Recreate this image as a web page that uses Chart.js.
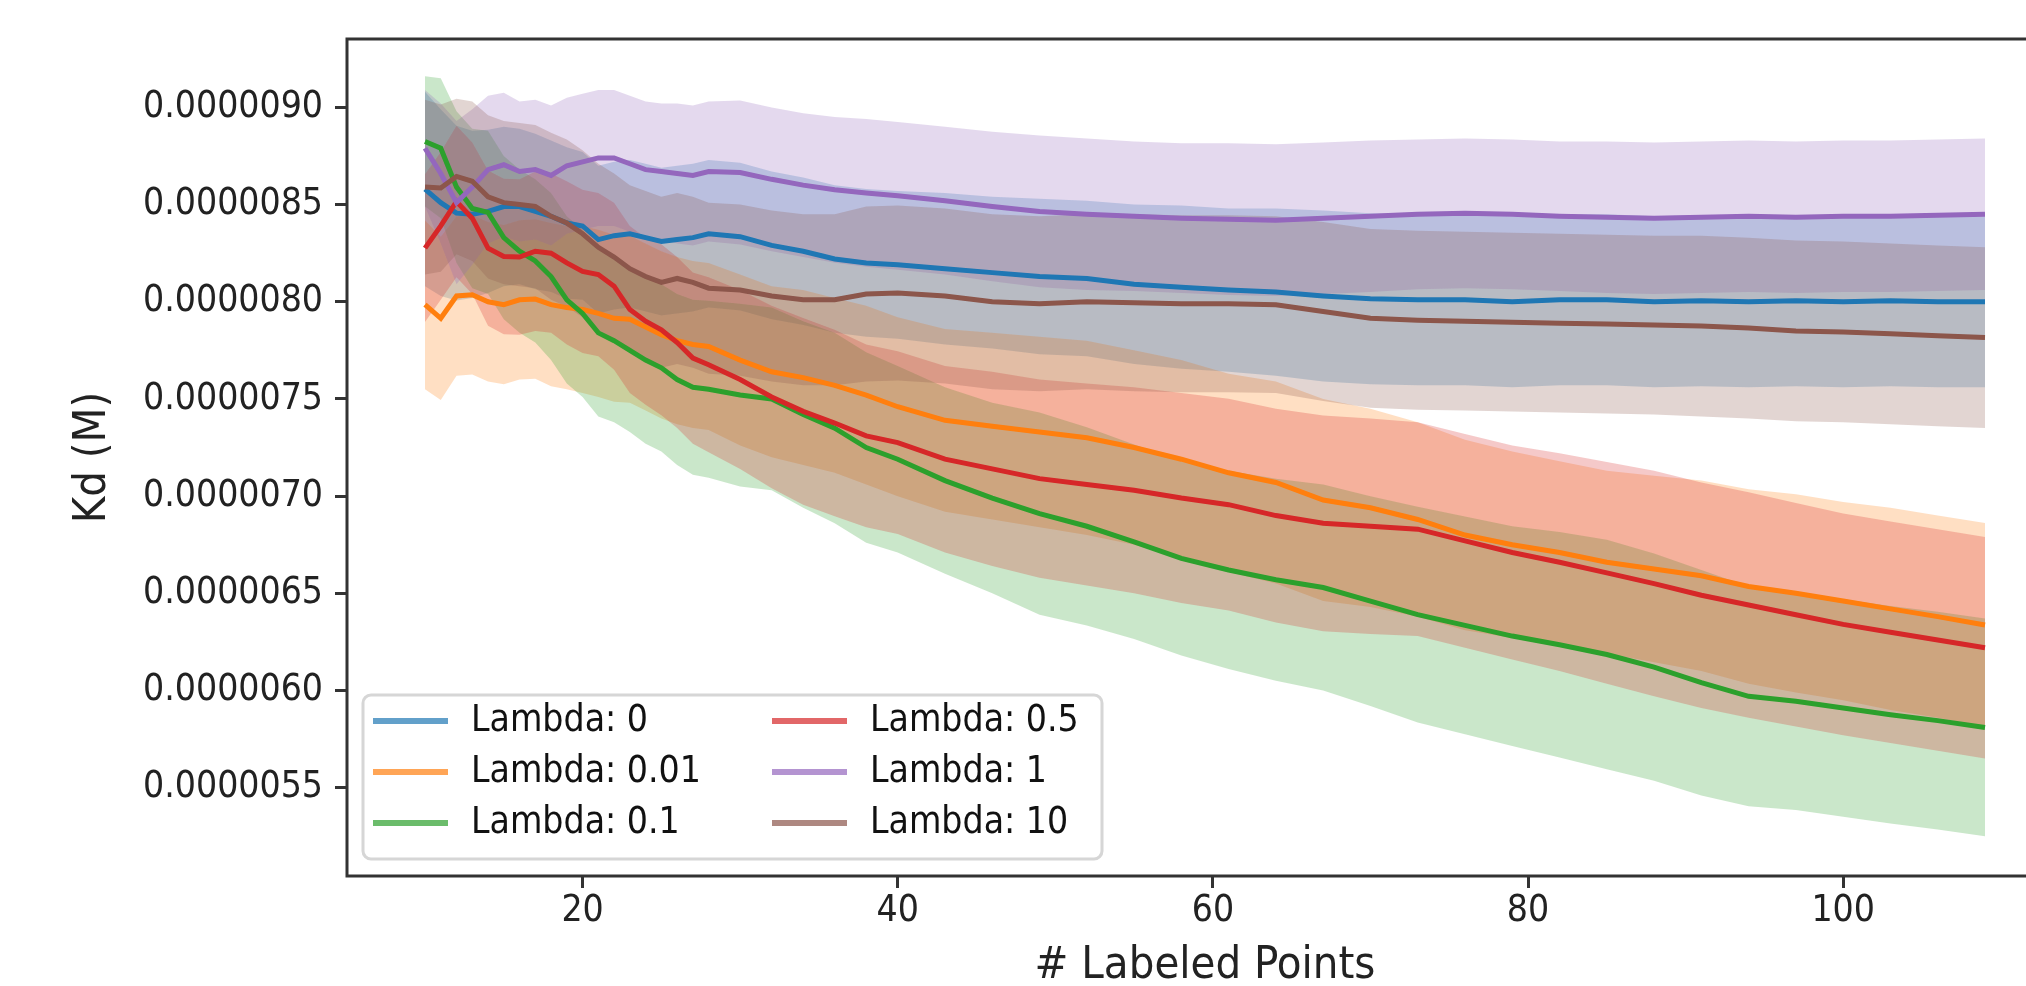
<!DOCTYPE html>
<html>
<head>
<meta charset="utf-8">
<title>Kd vs labeled points</title>
<script src="https://cdn.jsdelivr.net/npm/chart.js@4.4.1/dist/chart.umd.min.js"></script>
<style>
  html, body { margin: 0; padding: 0; background: #fff; overflow: hidden; }
  #wrap { position: relative; width: 2080px; height: 1000px; }
</style>
</head>
<body>
<div id="wrap"><canvas id="kdChart"></canvas></div>
<script>
// x positions (number of labeled points) where values were read
const labeledPoints = [10, 11, 12, 13, 14, 15, 16, 17, 18, 19, 20, 21, 22, 23, 24, 25, 26, 27, 28,
  30, 32, 34, 36, 38, 40,
  43, 46, 49, 52, 55, 58, 61, 64, 67, 70, 73, 76, 79, 82, 85, 88, 91, 94, 97, 100, 103, 106, 109];

const lambdas = ['0', '0.01', '0.1', '0.5', '1', '10'];
const colors = ['#1f77b4', '#ff7f0e', '#2ca02c', '#d62728', '#9467bd', '#8c564b'];

// Kd means and std, in units of 1e-6 M
const kdMean0 = [8.58, 8.51, 8.456, 8.45, 8.465, 8.49, 8.49, 8.465, 8.44, 8.405, 8.39, 8.32, 8.34, 8.35, 8.33, 8.31, 8.32, 8.33, 8.35,
  8.335, 8.29, 8.26, 8.22, 8.2, 8.19,
  8.17, 8.15, 8.13, 8.12, 8.09, 8.075, 8.06, 8.05, 8.03, 8.015, 8.01, 8.01, 8.0, 8.01, 8.01, 8.0, 8.005, 8.0, 8.005, 8.0, 8.005, 8.0, 8.0];
const kdStd0 = [0.5, 0.48, 0.45, 0.43, 0.42, 0.41, 0.40, 0.40, 0.39, 0.39, 0.38, 0.38, 0.38, 0.38, 0.38, 0.38, 0.38, 0.38, 0.38,
  0.38, 0.38, 0.38, 0.38, 0.38, 0.38,
  0.39, 0.39, 0.40, 0.40, 0.41, 0.42, 0.42, 0.43, 0.44, 0.44, 0.44, 0.44, 0.44, 0.44, 0.44, 0.44, 0.44, 0.44, 0.44, 0.44, 0.44, 0.44, 0.44];

const kdMean001 = [7.985, 7.915, 8.03, 8.036, 8.0, 7.985, 8.01, 8.014, 7.985, 7.97, 7.96, 7.94, 7.915, 7.91, 7.87, 7.83, 7.80, 7.78, 7.77,
  7.70, 7.64, 7.61, 7.57, 7.52, 7.46,
  7.39, 7.36, 7.33, 7.30, 7.25, 7.19, 7.12, 7.07, 6.98, 6.94, 6.88, 6.80, 6.75, 6.71, 6.66, 6.625, 6.59, 6.535, 6.50, 6.46, 6.42, 6.38, 6.337];
const kdStd001 = [0.435, 0.42, 0.41, 0.41, 0.41, 0.41, 0.41, 0.41, 0.42, 0.42, 0.43, 0.43, 0.43, 0.43, 0.43, 0.43, 0.43, 0.43, 0.43,
  0.44, 0.44, 0.45, 0.45, 0.46, 0.46,
  0.47, 0.48, 0.49, 0.50, 0.50, 0.51, 0.51, 0.52, 0.52, 0.51, 0.50, 0.49, 0.48, 0.47, 0.47, 0.48, 0.49, 0.50, 0.51, 0.51, 0.52, 0.52, 0.525];

const kdMean01 = [8.825, 8.79, 8.59, 8.48, 8.46, 8.33, 8.26, 8.21, 8.13, 8.01, 7.94, 7.84, 7.80, 7.75, 7.70, 7.66, 7.60, 7.56, 7.55,
  7.52, 7.50, 7.42, 7.35, 7.25, 7.19,
  7.08, 6.99, 6.91, 6.845, 6.765, 6.68, 6.62, 6.57, 6.53, 6.46, 6.39, 6.335, 6.28, 6.235, 6.185, 6.12, 6.04, 5.97, 5.945, 5.91, 5.875, 5.845, 5.81];
const kdStd01 = [0.335, 0.36, 0.39, 0.41, 0.42, 0.42, 0.42, 0.42, 0.43, 0.43, 0.43, 0.43, 0.42, 0.42, 0.43, 0.43, 0.44, 0.45, 0.455,
  0.47, 0.47, 0.48, 0.49, 0.49, 0.48,
  0.48, 0.49, 0.52, 0.51, 0.50, 0.50, 0.51, 0.52, 0.53, 0.54, 0.555, 0.56, 0.565, 0.58, 0.59, 0.585, 0.58, 0.565, 0.56, 0.56, 0.56, 0.56, 0.56];

const kdMean05 = [8.276, 8.39, 8.516, 8.43, 8.276, 8.233, 8.23, 8.26, 8.25, 8.20, 8.156, 8.14, 8.08, 7.96, 7.90, 7.856, 7.79, 7.71, 7.676,
  7.60, 7.51, 7.436, 7.376, 7.31, 7.275,
  7.19, 7.14, 7.09, 7.06, 7.03, 6.99, 6.956, 6.90, 6.86, 6.845, 6.83, 6.77, 6.71, 6.66, 6.605, 6.55, 6.49, 6.44, 6.39, 6.34, 6.30, 6.26, 6.22];
const kdStd05 = [0.38, 0.38, 0.39, 0.39, 0.40, 0.40, 0.40, 0.41, 0.41, 0.42, 0.42, 0.42, 0.43, 0.43, 0.43, 0.44, 0.44, 0.44, 0.45,
  0.46, 0.47, 0.48, 0.48, 0.47, 0.47,
  0.48, 0.50, 0.51, 0.52, 0.53, 0.54, 0.545, 0.55, 0.555, 0.555, 0.55, 0.55, 0.55, 0.56, 0.57, 0.58, 0.58, 0.58, 0.575, 0.57, 0.57, 0.57, 0.57];

const kdMean1 = [8.79, 8.66, 8.51, 8.59, 8.68, 8.705, 8.67, 8.68, 8.65, 8.70, 8.72, 8.74, 8.74, 8.71, 8.68, 8.67, 8.66, 8.65, 8.67,
  8.665, 8.63, 8.60, 8.576, 8.56, 8.545,
  8.52, 8.49, 8.465, 8.45, 8.44, 8.43, 8.425, 8.42, 8.43, 8.44, 8.45, 8.455, 8.45, 8.44, 8.435, 8.43, 8.435, 8.44, 8.435, 8.44, 8.44, 8.445, 8.45];
const kdStd1 = [0.3, 0.36, 0.42, 0.40, 0.38, 0.37, 0.36, 0.36, 0.36, 0.35, 0.35, 0.35, 0.35, 0.35, 0.35, 0.35, 0.36, 0.36, 0.36,
  0.37, 0.37, 0.37, 0.375, 0.38, 0.38,
  0.38, 0.385, 0.39, 0.39, 0.385, 0.385, 0.39, 0.39, 0.39, 0.39, 0.385, 0.385, 0.385, 0.385, 0.39, 0.39, 0.39, 0.39, 0.39, 0.39, 0.39, 0.39, 0.39];

const kdMean10 = [8.59, 8.585, 8.645, 8.62, 8.54, 8.51, 8.50, 8.49, 8.44, 8.405, 8.35, 8.28, 8.23, 8.17, 8.13, 8.10, 8.12, 8.10, 8.07,
  8.06, 8.03, 8.01, 8.01, 8.04, 8.045,
  8.03, 8.0, 7.99, 8.0, 7.995, 7.99, 7.99, 7.985, 7.95, 7.915, 7.905, 7.90, 7.895, 7.89, 7.885, 7.88, 7.875, 7.865, 7.85, 7.845, 7.835, 7.825, 7.816];
const kdStd10 = [0.45, 0.43, 0.40, 0.41, 0.42, 0.42, 0.42, 0.42, 0.43, 0.43, 0.43, 0.43, 0.43, 0.43, 0.44, 0.44, 0.44, 0.44, 0.44,
  0.44, 0.44, 0.44, 0.44, 0.45, 0.45,
  0.45, 0.45, 0.45, 0.45, 0.455, 0.455, 0.455, 0.455, 0.46, 0.46, 0.46, 0.46, 0.46, 0.46, 0.46, 0.46, 0.465, 0.465, 0.465, 0.465, 0.465, 0.465, 0.465];

const xTicks = [20, 40, 60, 80, 100];
const yTicks = [0.0000055, 0.0000060, 0.0000065, 0.0000070, 0.0000075, 0.0000080, 0.0000085, 0.0000090];
const UNIT = 1e-6;

const means = [kdMean0, kdMean001, kdMean01, kdMean05, kdMean1, kdMean10];
const stds = [kdStd0, kdStd001, kdStd01, kdStd05, kdStd1, kdStd10];

const FONT = "'DejaVu Sans Condensed', 'DejaVu Sans', sans-serif";
Chart.defaults.font.family = FONT;
Chart.defaults.font.size = 37;
Chart.defaults.color = '#222';

function rgba(hex, a) {
  const n = parseInt(hex.slice(1), 16);
  return 'rgba(' + (n >> 16) + ',' + ((n >> 8) & 255) + ',' + (n & 255) + ',' + a + ')';
}

const bandSets = [];
const lineSets = [];
lambdas.forEach((lam, i) => {
  const pts = f => labeledPoints.map((x, j) => ({ x: x, y: f(j) * UNIT }));
  bandSets.push({
    label: 'upper ' + lam,
    data: pts(j => means[i][j] + stds[i][j]),
    borderWidth: 0, borderColor: 'rgba(0,0,0,0)', pointRadius: 0, fill: false,
    order: 70 - i * 10
  });
  bandSets.push({
    label: 'lower ' + lam,
    data: pts(j => means[i][j] - stds[i][j]),
    borderWidth: 0, borderColor: 'rgba(0,0,0,0)', pointRadius: 0,
    fill: '-1', backgroundColor: rgba(colors[i], 0.25),
    order: 70 - i * 10
  });
  lineSets.push({
    label: 'Lambda: ' + lam,
    data: pts(j => means[i][j]),
    borderColor: colors[i], borderWidth: 5, pointRadius: 0, fill: false,
    order: 6 - i
  });
});

// axes box (matplotlib spines)
const framePlugin = {
  id: 'frame',
  afterDatasetsDraw(chart) {
    const { ctx, chartArea: a } = chart;
    ctx.save();
    ctx.strokeStyle = '#333';
    ctx.lineWidth = 3;
    ctx.strokeRect(a.left, a.top, a.right - a.left, a.bottom - a.top);
    ctx.restore();
  }
};

// two-column legend in the lower left corner
const boxLegend = {
  id: 'boxLegend',
  afterDraw(chart) {
    const { ctx, chartArea: a } = chart;
    const bx = a.left + 16, by = a.bottom - 181, bw = 739, bh = 164, r = 8;
    ctx.save();
    ctx.beginPath();
    ctx.moveTo(bx + r, by);
    ctx.arcTo(bx + bw, by, bx + bw, by + bh, r);
    ctx.arcTo(bx + bw, by + bh, bx, by + bh, r);
    ctx.arcTo(bx, by + bh, bx, by, r);
    ctx.arcTo(bx, by, bx + bw, by, r);
    ctx.closePath();
    ctx.fillStyle = 'rgba(255,255,255,0.8)';
    ctx.fill();
    ctx.strokeStyle = '#d6d6d6';
    ctx.lineWidth = 3;
    ctx.stroke();

    ctx.font = '37px ' + FONT;
    ctx.textBaseline = 'middle';
    ctx.textAlign = 'left';
    lineSets.forEach((ds, i) => {
      const col = Math.floor(i / 3), row = i % 3;
      const y = a.bottom - 155 + row * 51;
      const hx = a.left + 26 + col * 399;
      ctx.strokeStyle = rgba(colors[i], 0.7);
      ctx.lineWidth = 6;
      ctx.beginPath();
      ctx.moveTo(hx, y);
      ctx.lineTo(hx + 75, y);
      ctx.stroke();
      ctx.fillStyle = '#111';
      ctx.fillText(ds.label, hx + 98, y);
    });
    ctx.restore();
  }
};

new Chart(document.getElementById('kdChart'), {
  type: 'line',
  data: { datasets: bandSets.concat(lineSets) },
  options: {
    responsive: true,
    maintainAspectRatio: false,
    animation: false,
    layout: { padding: { top: 39, right: 17, left: 0, bottom: 0 } },
    plugins: { legend: { display: false }, tooltip: { enabled: false } },
    elements: { line: { tension: 0 }, point: { radius: 0 } },
    scales: {
      x: {
        type: 'linear',
        min: 5.05,
        max: 113.95,
        afterBuildTicks: s => { s.ticks = xTicks.map(v => ({ value: v })); },
        afterFit: s => { s.height = 124; },
        border: { display: false },
        grid: { drawOnChartArea: false, drawTicks: true, tickLength: 12, color: '#333', lineWidth: 3 },
        ticks: { padding: 1, autoSkip: false, maxRotation: 0, callback: v => String(v) },
        title: { display: true, text: '# Labeled Points', font: { size: 45 }, padding: { top: 0, bottom: 7 } }
      },
      y: {
        type: 'linear',
        min: 5.0455e-6,
        max: 9.352e-6,
        afterBuildTicks: s => { s.ticks = yTicks.map(v => ({ value: v })); },
        afterFit: s => { s.width = 347; },
        border: { display: false },
        grid: { drawOnChartArea: false, drawTicks: true, tickLength: 12, color: '#333', lineWidth: 3 },
        ticks: { padding: 12, autoSkip: false, callback: v => Number(v).toFixed(7) },
        title: { display: true, text: 'Kd (M)', font: { size: 45 }, padding: { top: 66, bottom: 0 } }
      }
    }
  },
  plugins: [framePlugin, boxLegend]
});
</script>
</body>
</html>
